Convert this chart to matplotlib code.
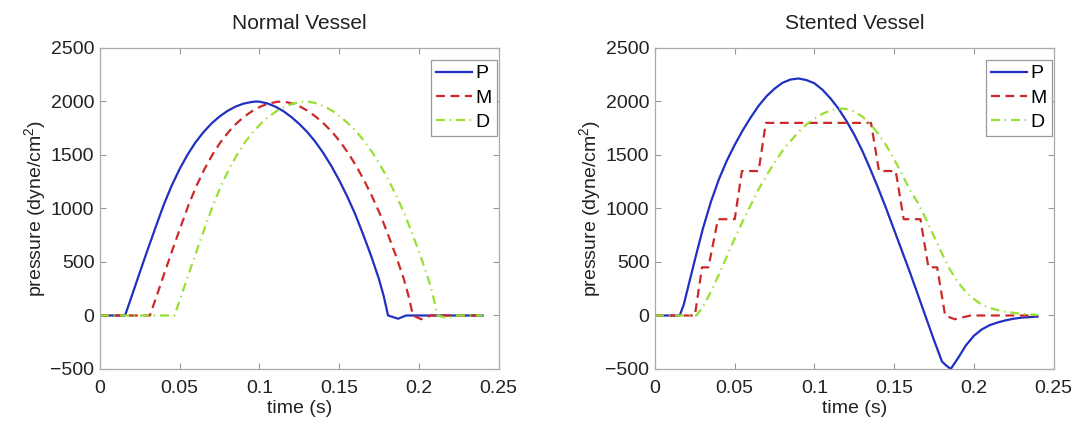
import matplotlib
matplotlib.use('Agg')
import matplotlib.pyplot as plt

plt.rcParams['font.family'] = ['Liberation Sans', 'DejaVu Sans']
plt.rcParams['mathtext.fontset'] = 'custom'
plt.rcParams['mathtext.rm'] = 'Liberation Sans'
plt.rcParams['mathtext.it'] = 'Liberation Sans:italic'

# --- Normal vessel ---
t_normal_p = [0, 0.0157, 0.02, 0.025, 0.03, 0.035, 0.04, 0.045, 0.05, 0.055,
              0.06, 0.065, 0.07, 0.075, 0.08, 0.085, 0.09, 0.095, 0.098, 0.1,
              0.105, 0.11, 0.115, 0.12, 0.125, 0.13, 0.135, 0.14, 0.145, 0.15,
              0.155, 0.16, 0.165, 0.17, 0.175, 0.178, 0.1807, 0.187, 0.192, 0.24]
t_normal_m = [0, 0.0313, 0.0356, 0.0406, 0.0456, 0.0506, 0.0556, 0.0606, 0.0656,
              0.0706, 0.0756, 0.0806, 0.0856, 0.0906, 0.0956, 0.1006, 0.1056,
              0.1106, 0.1136, 0.1156, 0.1206, 0.1256, 0.1306, 0.1356, 0.1406,
              0.1456, 0.1506, 0.1556, 0.1606, 0.1656, 0.1706, 0.1756, 0.1806,
              0.1856, 0.1906, 0.1936, 0.1963, 0.2015, 0.2075, 0.24]
t_normal_d = [0, 0.0467, 0.051, 0.056, 0.061, 0.066, 0.071, 0.076, 0.081, 0.086,
              0.091, 0.096, 0.101, 0.106, 0.111, 0.116, 0.121, 0.126, 0.129,
              0.131, 0.136, 0.141, 0.146, 0.151, 0.156, 0.161, 0.166, 0.171,
              0.176, 0.181, 0.186, 0.191, 0.196, 0.201, 0.206, 0.209, 0.2117,
              0.218, 0.223, 0.24]
normal_p = [0, 0, 185, 405, 620, 830, 1035, 1215, 1370, 1505, 1620, 1715, 1795,
            1860, 1912, 1952, 1980, 1995, 2000, 1998, 1982, 1952, 1910, 1855,
            1790, 1715, 1625, 1520, 1400, 1265, 1115, 950, 760, 560, 340, 180,
            0, -30, 0, 0]
normal_m = [0, 0, 185, 405, 620, 830, 1035, 1215, 1370, 1505, 1620, 1715, 1795,
            1860, 1912, 1952, 1980, 1995, 2000, 1998, 1982, 1952, 1910, 1855,
            1790, 1715, 1625, 1520, 1400, 1265, 1115, 950, 760, 560, 340, 180,
            0, -35, 0, 0]
normal_d = [0, 0, 185, 405, 620, 830, 1035, 1215, 1370, 1505, 1620, 1715, 1795,
            1860, 1912, 1952, 1980, 1995, 2000, 1998, 1982, 1952, 1910, 1855,
            1790, 1715, 1625, 1520, 1400, 1265, 1115, 950, 760, 560, 340, 180,
            0, -25, 0, 0]

# --- Stented vessel ---
t_stent_p = [0, 0.0155, 0.018, 0.0205, 0.025, 0.03, 0.035, 0.04, 0.045, 0.05,
             0.055, 0.06, 0.065, 0.07, 0.075, 0.08, 0.085, 0.09, 0.095, 0.1,
             0.105, 0.11, 0.115, 0.12, 0.125, 0.13, 0.135, 0.14, 0.145, 0.15,
             0.155, 0.16, 0.165, 0.17, 0.175, 0.18, 0.1825, 0.1855, 0.19, 0.195,
             0.2, 0.205, 0.21, 0.215, 0.22, 0.225, 0.23, 0.24]
stent_p = [0, 0, 100, 250, 520, 810, 1060, 1270, 1445, 1595, 1730, 1850, 1960,
           2050, 2120, 2175, 2205, 2215, 2200, 2170, 2110, 2030, 1935, 1820,
           1690, 1540, 1370, 1190, 1000, 800, 600, 400, 190, -20, -230, -430,
           -465, -500, -400, -280, -190, -130, -90, -65, -45, -30, -20, -10]
t_stent_m = [0, 0.025, 0.0295, 0.0335, 0.0395, 0.050, 0.0545, 0.065, 0.0695,
             0.1355, 0.1405, 0.151, 0.156, 0.1665, 0.1715, 0.177, 0.182, 0.188,
             0.198, 0.24]
stent_m = [0, 0, 450, 450, 900, 900, 1350, 1350, 1800, 1800, 1350, 1350, 900,
           900, 450, 450, 0, -35, 0, 0]
t_stent_d = [0, 0.026, 0.03, 0.035, 0.04, 0.045, 0.05, 0.055, 0.06, 0.065, 0.07,
             0.075, 0.08, 0.085, 0.09, 0.095, 0.1, 0.105, 0.11, 0.115, 0.12,
             0.125, 0.13, 0.135, 0.14, 0.145, 0.15, 0.155, 0.16, 0.165, 0.17,
             0.175, 0.18, 0.185, 0.19, 0.195, 0.2, 0.205, 0.21, 0.215, 0.22,
             0.23, 0.24]
stent_d = [0, 0, 80, 220, 380, 550, 720, 880, 1030, 1180, 1310, 1430, 1540, 1630,
           1715, 1785, 1840, 1885, 1915, 1935, 1930, 1905, 1860, 1790, 1700,
           1590, 1460, 1320, 1170, 1050, 900, 740, 580, 430, 310, 220, 155, 100,
           70, 50, 35, 15, 5]

labels = ['P', 'M', 'D']
titles = ['Normal Vessel', 'Stented Vessel']
colors = ['#2030c0', '#cc2a2a', '#99e033']

fig = plt.figure(figsize=(10.8, 4.22), dpi=100)
ax1 = fig.add_axes([0.0926, 0.1256, 0.369, 0.7607])
ax2 = fig.add_axes([0.6065, 0.1256, 0.369, 0.7607])

series = [
    [(t_normal_p, normal_p), (t_normal_m, normal_m), (t_normal_d, normal_d)],
    [(t_stent_p, stent_p), (t_stent_m, stent_m), (t_stent_d, stent_d)],
]

for ax, title, data in zip([ax1, ax2], titles, series):
    ax.plot(data[0][0], data[0][1], color=colors[0], lw=1.6, label=labels[0])
    ax.plot(data[1][0], data[1][1], color=colors[1], lw=1.6, dashes=(4, 2.5),
            label=labels[1])
    ax.plot(data[2][0], data[2][1], color=colors[2], lw=1.6,
            dashes=(4, 2.2, 0.6, 2.2), label=labels[2])
    ax.set_xlim(0, 0.25)
    ax.set_ylim(-500, 2500)
    ax.set_xticks([0, 0.05, 0.1, 0.15, 0.2, 0.25])
    ax.set_xticklabels(['0', '0.05', '0.1', '0.15', '0.2', '0.25'])
    ax.set_yticks([-500, 0, 500, 1000, 1500, 2000, 2500])
    ax.set_yticklabels(['\u2212500', '0', '500', '1000', '1500', '2000', '2500'])
    ax.tick_params(direction='in', length=4, width=0.8, color='#999999',
                   top=True, right=True, labelsize=14, labelcolor='#222222')
    ax.tick_params(axis='x', pad=8)
    ax.tick_params(axis='y', pad=4)
    for s in ax.spines.values():
        s.set_color('#aaaaaa')
        s.set_linewidth(0.9)
    ax.set_title(title, fontsize=15, color='#222222', pad=13.5)
    ax.set_xlabel('time (s)', fontsize=14, color='#222222', labelpad=2)
    ax.set_ylabel(r'pressure (dyne/cm$^2$)', fontsize=14, color='#222222',
                  labelpad=2)
    leg = ax.legend(loc='upper right', bbox_to_anchor=(0.995, 0.963),
                    fontsize=14, handlelength=1.85, handletextpad=0.2,
                    labelspacing=0.35, borderpad=0.25, borderaxespad=0,
                    fancybox=False, framealpha=1)
    leg.get_frame().set_edgecolor('#999999')
    leg.get_frame().set_linewidth(0.9)

plt.savefig('out.png', dpi=100)
